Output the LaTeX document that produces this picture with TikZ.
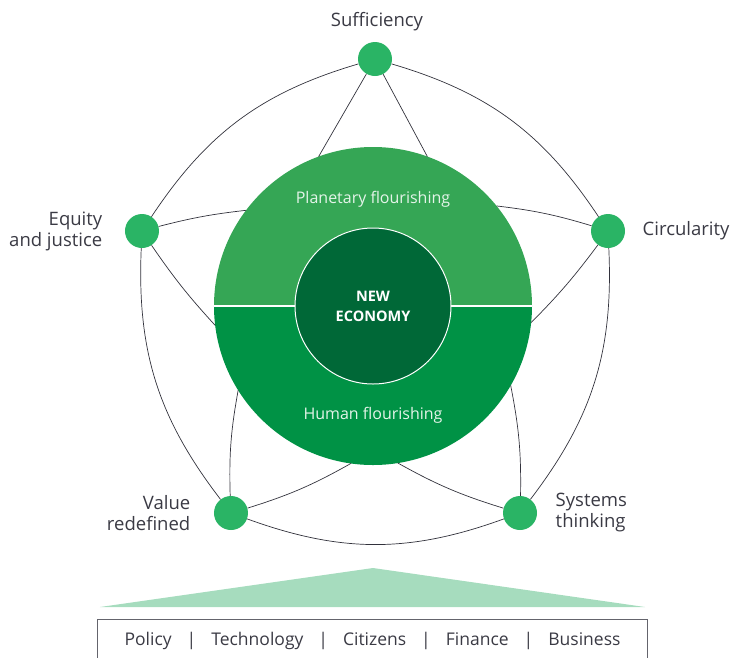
\documentclass[tikz,border=0pt]{standalone}
\usepackage{fontspec}
\setmainfont{Open Sans}
\usetikzlibrary{positioning}

\definecolor{planet}{RGB}{53,166,85}
\definecolor{human}{RGB}{0,146,69}
\definecolor{core}{RGB}{0,104,55}
\definecolor{dotgreen}{RGB}{42,180,101}
\definecolor{base}{RGB}{166,220,190}
\definecolor{mint}{RGB}{228,244,233}
\definecolor{ink}{RGB}{58,58,68}
\definecolor{wire}{RGB}{50,50,60}
\definecolor{frame}{RGB}{100,100,108}

\begin{document}
\begin{tikzpicture}[x=1pt, y=1pt,
    dot/.style={circle, fill=dotgreen, minimum size=34pt, inner sep=0pt},
    tag/.style={text=ink, font=\fontsize{18.5}{21}\selectfont},
    inside/.style={text=mint, font=\fontsize{16}{18}\selectfont},
    link/.style={draw=wire, line width=0.7pt}]
  \useasboundingbox (-373,-351) rectangle (370,306);

  \node[circle, minimum size=318pt, inner sep=0pt, outer sep=0pt] (big) at (0,0) {};
  \fill[planet] (big.east) arc (0:180:159) -- cycle;
  \fill[human] (big.west) arc (180:360:159) -- cycle;
  \draw[white, line width=1.2pt] (big.west) -- (big.east);
  \node[circle, minimum size=156pt, inner sep=0pt, fill=core, draw=white, line width=1pt,
    text=white, align=center, font=\bfseries\fontsize{14.5}{20}\selectfont] (core) at (0,0) {NEW\\ECONOMY};
  \node[inside] (planetary) at (0,107) {Planetary flourishing};
  \node[inside] (humanity) at (0,-109) {Human flourishing};

  \node[dot] (suff) at (2,247) {};
  \node[dot] (circ) at (235,75) {};
  \node[dot] (sys) at (147,-207) {};
  \node[dot] (val) at (-142,-207) {};
  \node[dot] (eq) at (-231,75) {};

  \node[tag, above=7pt of suff, xshift=2pt] (sufflabel) {Sufficiency};
  \node[tag, right=14pt of circ] (circlabel) {Circularity};
  \node[tag, right=15pt of sys, align=left] (syslabel) {Systems\\thinking};
  \node[tag, left=20pt of val, align=right] (vallabel) {Value\\redefined};
  \node[tag, left=19pt of eq, align=right] (eqlabel) {Equity\\and justice};

  \draw[link] (suff) to[bend left=20] (circ);
  \draw[link] (circ) to[bend left=20] (sys);
  \draw[link] (sys) to[bend left=20] (val);
  \draw[link] (val) to[bend left=20] (eq);
  \draw[link] (eq) to[bend left=20] (suff);

  \draw[link] (suff) -- (big.110);
  \draw[link] (suff) -- (big.70);
  \draw[link] (circ) to[bend right=5] (big.39);
  \draw[link] (circ) to[bend left=4] (big.-6);
  \draw[link] (sys) to[bend right=6] (big.-30);
  \draw[link] (sys) to[bend left=6] (big.-81);
  \draw[link] (val) to[bend right=6] (big.-98);
  \draw[link] (val) to[bend left=6] (big.-148);
  \draw[link] (eq) to[bend left=4] (big.143);
  \draw[link] (eq) to[bend right=4] (big.187);

  \fill[base] (-273,-301) -- (0,-262) -- (272,-301) -- cycle;
  \node[draw=frame, line width=1pt, minimum width=549pt, minimum height=42pt, anchor=north,
    text=ink, font=\fontsize{17.5}{20}\selectfont] (sectors) at (-0.5,-313)
    {Policy\hspace{15pt}|\hspace{15pt}Technology\hspace{15pt}|\hspace{15pt}Citizens\hspace{15pt}|\hspace{15pt}Finance\hspace{15pt}|\hspace{15pt}Business};
\end{tikzpicture}
\end{document}
